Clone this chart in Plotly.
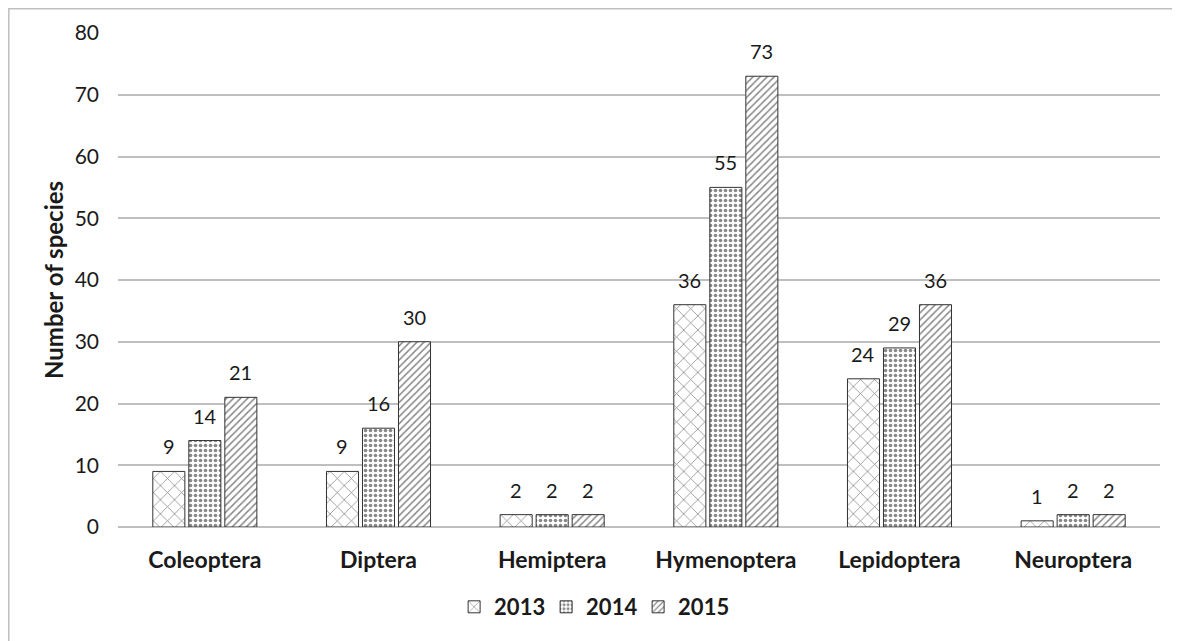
import plotly.graph_objects as go

categories = ["Coleoptera", "Diptera", "Hemiptera", "Hymenoptera", "Lepidoptera", "Neuroptera"]
years = ["2013", "2014", "2015"]
values_2013 = [9, 9, 2, 36, 24, 1]
values_2014 = [14, 16, 2, 55, 29, 2]
values_2015 = [21, 30, 2, 73, 36, 2]
y_ticks = [0, 10, 20, 30, 40, 50, 60, 70, 80]

FONT = "Lato, Carlito, Calibri, 'Open Sans', sans-serif"
series = [values_2013, values_2014, values_2015]
patterns = [
    dict(shape="x", size=10, solidity=0.15, fgcolor="#111111", bgcolor="white"),
    dict(shape=".", size=5, solidity=0.42, fgcolor="#111111", bgcolor="white"),
    dict(shape="/", size=5, solidity=0.3, fgcolor="#111111", bgcolor="white"),
]

BARGAP = 0.378
PLOT_W = 1180 - 110 - 28
slot_px = PLOT_W / len(categories) * (1 - BARGAP) / len(years)

fig = go.Figure()
annotations = []
for i, (yr, vals, pat) in enumerate(zip(years, series, patterns)):
    fig.add_trace(go.Bar(
        x=categories, y=vals, name=yr,
        marker=dict(color="white", pattern=pat, line=dict(color="#333333", width=1)),
    ))
    for c, v in zip(categories, vals):
        annotations.append(dict(x=c, y=v, xref="x", yref="y", text=str(v), showarrow=False,
                                xanchor="center", yanchor="bottom",
                                xshift=(i - 1) * slot_px, yshift=11,
                                font=dict(family=FONT, size=20, color="#1a1a1a")))

annotations.append(dict(text="<b>Number of species</b>", x=-0.0624, xref="paper", y=0.5, yref="paper",
                        textangle=-90, showarrow=False, xanchor="center", yanchor="middle",
                        font=dict(family=FONT, size=24, color="#1a1a1a")))

fig.update_layout(
    width=1180, height=641,
    margin=dict(l=110, r=28, t=25, b=122),
    paper_bgcolor="white", plot_bgcolor="white",
    barmode="group", bargap=BARGAP, bargroupgap=0.11,
    font=dict(family=FONT, color="#1a1a1a"),
    showlegend=True,
    legend=dict(orientation="h", x=0.455, y=-0.162, xanchor="center", yanchor="middle",
                font=dict(family=FONT, size=22, color="#1a1a1a", weight="bold"),
                itemwidth=30, traceorder="normal", entrywidth=47),
    xaxis=dict(showgrid=False, showline=False, ticks="",
               tickfont=dict(family=FONT, size=23, color="#1a1a1a", weight="bold"),
               ticklabelstandoff=17),
    yaxis=dict(range=[0, 80], tickvals=y_ticks, showgrid=True, gridcolor="#bfbfbf",
               gridwidth=1.5, zeroline=True, zerolinecolor="#bfbfbf", zerolinewidth=1.5,
               showline=False, ticks="",
               tickfont=dict(family=FONT, size=21, color="#1a1a1a"),
               ticklabelstandoff=18),
    annotations=annotations,
    shapes=[dict(type="rect", xref="paper", yref="paper", x0=-0.1048, x1=1.2, y0=-0.4, y1=1.0491,
                 line=dict(color="#bfbfbf", width=1.5), fillcolor="rgba(0,0,0,0)", layer="below")],
)

fig.write_html("out.html")
